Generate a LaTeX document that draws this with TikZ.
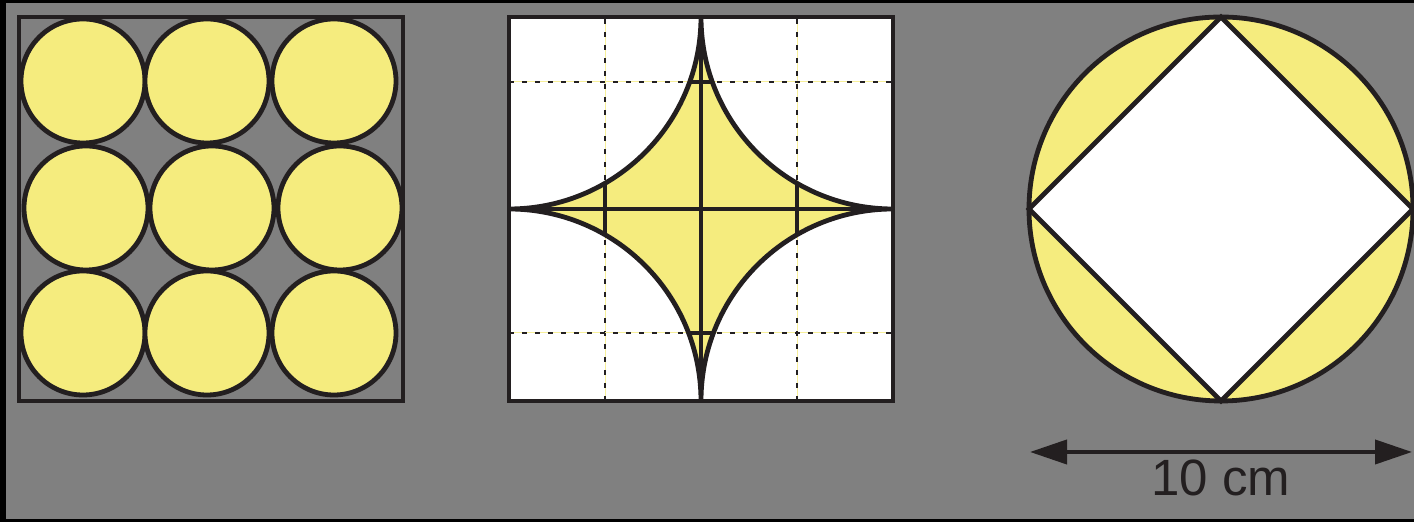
\documentclass[tikz,border=0pt]{standalone}
\usepackage{fontspec}
\setmainfont{Liberation Sans}
\usetikzlibrary{arrows.meta}
\definecolor{bg}{HTML}{808080}
\definecolor{ink}{HTML}{231F20}
\definecolor{fillY}{HTML}{F5EC7E}
\definecolor{lineY}{HTML}{F8F09A}
\tikzset{
  outline/.style={draw=ink, line width=2.4pt},
  disc/.style={outline, fill=fillY},
  gridY/.style={draw=lineY, line width=0.5pt},
  gridK/.style={draw=ink, line width=1.4pt, dash pattern=on 2.5pt off 4pt},
  solidK/.style={draw=ink, line width=2.1pt},
  dimarrow/.style={draw=ink, line width=2pt, {Triangle[length=18.5pt,width=12pt]}-{Triangle[length=18.5pt,width=12pt]}},
  label/.style={text=ink, font=\fontsize{25.5}{30}\selectfont, inner sep=0pt}
}
\begin{document}
\begin{tikzpicture}[x=0.5pt,y=0.5pt]
\useasboundingbox (0,0) rectangle (1414,522);
% background
\fill[bg] (0,0) rectangle (1414,522);
\fill[black] (0,0) rectangle (6,522);
\fill[black] (0,519) rectangle (1414,522);
\fill[black] (0,0) rectangle (1414,3);

% ---- left panel: 3x3 circles ----
\foreach \x in {83,207,334} {
  \draw[disc] (\x,441) circle[radius=31pt];
  \draw[disc] (\x,189) circle[radius=31pt];
}
\foreach \x in {86,212,340} {
  \draw[disc] (\x,314) circle[radius=31pt];
}
\draw[outline] (19,121) rectangle (403,505);

% ---- middle panel ----
\fill[white] (509,121) rectangle (893,505);
% dotted guide lines
\foreach \x in {605,797} {
  \draw[gridY] (\x,121) -- (\x,505);
  \draw[gridK] (\x,121) -- (\x,505);
}
\foreach \y in {440,189} {
  \draw[gridY] (509,\y) -- (893,\y);
  \draw[gridK] (509,\y) -- (893,\y);
}
% star region
\def\starpath{(701,505) arc[start angle=0,end angle=-90,radius=96pt]
  arc[start angle=90,end angle=0,radius=96pt]
  arc[start angle=180,end angle=90,radius=96pt]
  arc[start angle=270,end angle=180,radius=96pt] -- cycle}
\fill[fillY] \starpath;
\begin{scope}
  \clip \starpath;
  \foreach \x in {605,797} \draw[solidK] (\x,121) -- (\x,505);
  \foreach \y in {440,189} \draw[solidK] (509,\y) -- (893,\y);
\end{scope}
\draw[solidK] (701,121) -- (701,505);
\draw[solidK] (509,313) -- (893,313);
\draw[outline, line join=miter] \starpath;
\draw[outline] (509,121) rectangle (893,505);

% ---- right panel ----
\draw[disc] (1221,313) circle[radius=96pt];
\draw[outline, fill=white, line join=miter] (1221,505) -- (1413,313) -- (1221,121) -- (1029,313) -- cycle;

% dimension
\coordinate (dl) at (1030,70);
\coordinate (dr) at (1412,70);
\draw[dimarrow] (dl) -- (dr);
\node[label, anchor=base] (len) at (1221,26) {10 cm};
\end{tikzpicture}
\end{document}
